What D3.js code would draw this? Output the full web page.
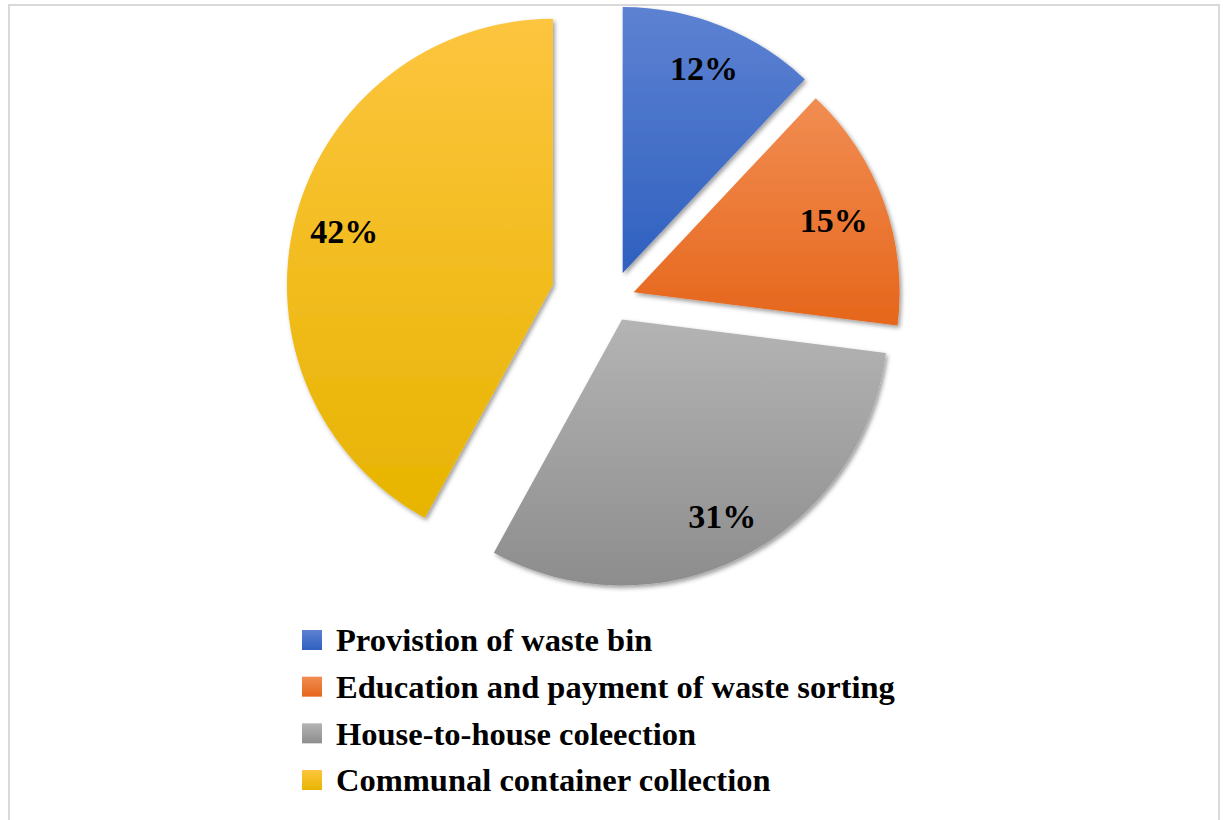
<!DOCTYPE html>
<html>
<head>
<meta charset="utf-8">
<script src="https://cdn.jsdelivr.net/npm/d3@7"></script>
<style>
  html, body { margin: 0; padding: 0; background: #fff; }
  svg { display: block; }
</style>
</head>
<body>
<svg id="chart" width="1225" height="820"></svg>
<script>
// Categories and their shares (%)
const categories = [
  "Provistion of waste bin",
  "Education and payment of waste sorting",
  "House-to-house coleection",
  "Communal container collection"
];
const shares = [12, 15, 31, 42];

// Per-slice styling: gradient stops (top, bottom), explode distance (px)
// and label distance as a fraction of the radius
const gradTop    = ["#5d82d2", "#f18d52", "#b4b4b4", "#fdc53f"];
const gradBottom = ["#2f60bf", "#e6661b", "#8d8d8d", "#e7b400"];
const explode    = [29, 23, 22, 61];
const labelFrac  = [0.83, 0.80, 0.83, 0.81];

const W = 1225, H = 820;
const cx = 612, cy = 300, radius = 266;
const serif = "'Liberation Serif', 'Times New Roman', serif";

const svg = d3.select("#chart");
const defs = svg.append("defs");

// Soft drop shadow under the slices
const shadow = defs.append("filter")
  .attr("id", "shadow")
  .attr("x", "-20%").attr("y", "-20%")
  .attr("width", "140%").attr("height", "140%");
shadow.append("feDropShadow")
  .attr("dx", 2).attr("dy", 2.5)
  .attr("stdDeviation", 2.2)
  .attr("flood-color", "#000")
  .attr("flood-opacity", 0.38);

categories.forEach((c, i) => {
  const g = defs.append("linearGradient")
    .attr("id", "grad" + i)
    .attr("x1", 0).attr("y1", 0).attr("x2", 0).attr("y2", 1);
  g.append("stop").attr("offset", "0%").attr("stop-color", gradTop[i]);
  g.append("stop").attr("offset", "100%").attr("stop-color", gradBottom[i]);
});

// Outer frame
svg.append("rect")
  .attr("x", 9).attr("y", 5)
  .attr("width", 1210).attr("height", 830)
  .attr("fill", "none")
  .attr("stroke", "#d9d9d9")
  .attr("stroke-width", 2);

const pie = d3.pie().sort(null).value(d => d.value);
const arcs = pie(shares.map((v, i) => ({ value: v, i })));
const arc = d3.arc().innerRadius(0).outerRadius(radius);

function offset(d, dist) {
  const mid = (d.startAngle + d.endAngle) / 2;
  return [Math.sin(mid) * dist, -Math.cos(mid) * dist];
}

const slices = svg.append("g")
  .attr("transform", `translate(${cx},${cy})`);

slices.selectAll("path")
  .data(arcs)
  .join("path")
  .attr("transform", d => {
    const [dx, dy] = offset(d, explode[d.index]);
    return `translate(${dx},${dy})`;
  })
  .attr("d", arc)
  .attr("fill", d => `url(#grad${d.index})`)
  .attr("filter", "url(#shadow)");

// Percentage labels
slices.selectAll("text")
  .data(arcs)
  .join("text")
  .attr("transform", d => {
    const [dx, dy] = offset(d, explode[d.index]);
    const [lx, ly] = offset(d, labelFrac[d.index] * radius);
    return `translate(${dx + lx},${dy + ly})`;
  })
  .attr("text-anchor", "middle")
  .attr("dy", "0.35em")
  .attr("font-family", serif)
  .attr("font-weight", "bold")
  .attr("font-size", 34)
  .attr("fill", "#000")
  .text(d => d.data.value + "%");

// Legend
const legendY = d3.scalePoint()
  .domain(categories)
  .range([640, 780]);

const legend = svg.append("g");
const rows = legend.selectAll("g")
  .data(categories)
  .join("g")
  .attr("transform", d => `translate(302,${legendY(d)})`);

rows.append("rect")
  .attr("x", 0).attr("y", -10)
  .attr("width", 20).attr("height", 20)
  .attr("fill", (d, i) => `url(#grad${i})`);

rows.append("text")
  .attr("x", 34)
  .attr("dy", "0.35em")
  .attr("font-family", serif)
  .attr("font-weight", "bold")
  .attr("font-size", 32.5)
  .attr("fill", "#000")
  .text(d => d);
</script>
</body>
</html>
